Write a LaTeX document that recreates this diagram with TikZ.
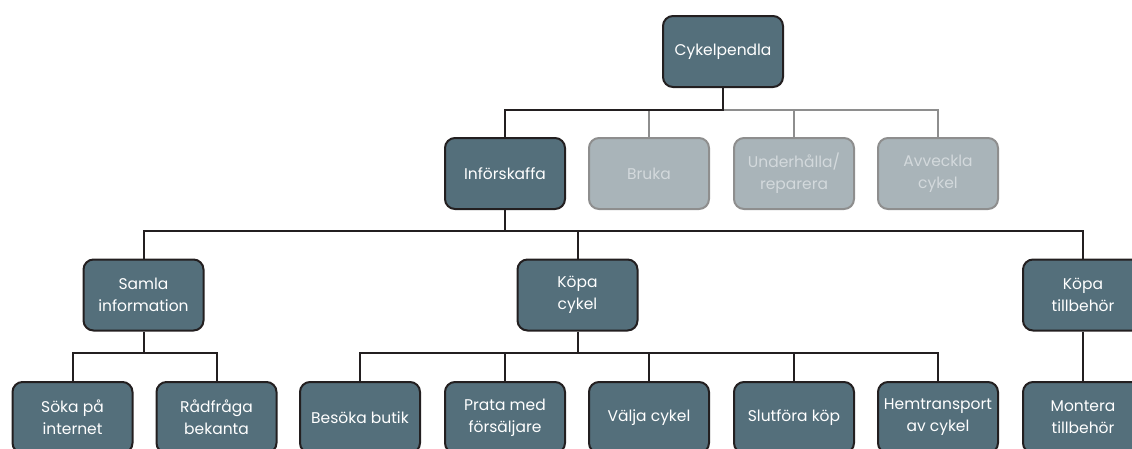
\documentclass[tikz,border=0pt]{standalone}
\usepackage{fontspec}
\setmainfont{Poppins}
\usetikzlibrary{backgrounds}
\definecolor{boxfill}{HTML}{546F7B}
\definecolor{boxline}{HTML}{231F20}
\definecolor{mutedfill}{HTML}{A9B4B9}
\definecolor{mutedline}{HTML}{8E8E8E}
\definecolor{mutedtext}{HTML}{D3D9DC}
\begin{document}
\begin{tikzpicture}[x=1pt,y=-1pt,
  task/.style={draw=boxline, fill=boxfill, line width=2pt, rounded corners=10pt,
    minimum width=120pt, minimum height=71pt, text=white, align=center,
    font=\fontsize{15.5}{22}\selectfont, inner sep=0pt},
  muted/.style={task, draw=mutedline, fill=mutedfill, text=mutedtext},
  link/.style={draw=boxline, line width=2pt},
  mutedlink/.style={draw=mutedline, line width=2pt}]
\useasboundingbox (0,0) rectangle (1132,448);
\clip (0,0) rectangle (1132,448);

% level 0
\node[task] (root) at (723,51.5) {Cykelpendla};
% level 1
\node[task]  (get)    at (505,173.5) {Införskaffa};
\node[muted] (use)    at (649,173.5) {Bruka};
\node[muted] (repair) at (794,173.5) {Underhålla/\\reparera};
\node[muted] (retire) at (938,173.5) {Avveckla\\cykel};
% level 2
\node[task] (info)  at (143.5,295) {Samla\\information};
\node[task] (buy)   at (577.5,295) {Köpa\\cykel};
\node[task] (acc)   at (1083,295)  {Köpa\\tillbehör};
% level 3
\node[task] (web)    at (72.5,417.5)  {Söka på\\internet};
\node[task] (ask)    at (216.5,417.5) {Rådfråga\\bekanta};
\node[task] (shop)   at (360,417.5)   {Besöka butik};
\node[task] (talk)   at (505,417.5)   {Prata med\\försäljare};
\node[task] (pick)   at (649,417.5)   {Välja cykel};
\node[task] (pay)    at (794,417.5)   {Slutföra köp};
\node[task] (home)   at (938,417.5)   {Hemtransport\\av cykel};
\node[task] (mount)  at (1083,417.5)  {Montera\\tillbehör};

% tree connectors, drawn behind the boxes
\begin{scope}[on background layer]
  % bus heights between the levels
  \coordinate (busA) at (0,110);
  \coordinate (busB) at (0,231);
  \coordinate (busC) at (0,353);
  % level 0 -> 1
  \draw[mutedlink] (root.south |- busA) -| (retire.north);
  \draw[mutedlink] (use.north) -- (use.north |- busA);
  \draw[mutedlink] (repair.north) -- (repair.north |- busA);
  \draw[link] (root.south) -- (root.south |- busA) -| (get.north);
  % level 1 -> 2
  \draw[link] (get.south) -- (get.south |- busB);
  \draw[link] (info.north) |- (busB -| acc.north) -- (acc.north);
  \draw[link] (buy.north) -- (buy.north |- busB);
  % level 2 -> 3
  \draw[link] (info.south) -- (info.south |- busC);
  \draw[link] (web.north) |- (busC -| ask.north) -- (ask.north);
  \draw[link] (buy.south) -- (buy.south |- busC);
  \draw[link] (shop.north) |- (busC -| home.north) -- (home.north);
  \draw[link] (talk.north) -- (talk.north |- busC);
  \draw[link] (pick.north) -- (pick.north |- busC);
  \draw[link] (pay.north) -- (pay.north |- busC);
  \draw[link] (acc.south) -- (mount.north);
\end{scope}
\end{tikzpicture}
\end{document}
